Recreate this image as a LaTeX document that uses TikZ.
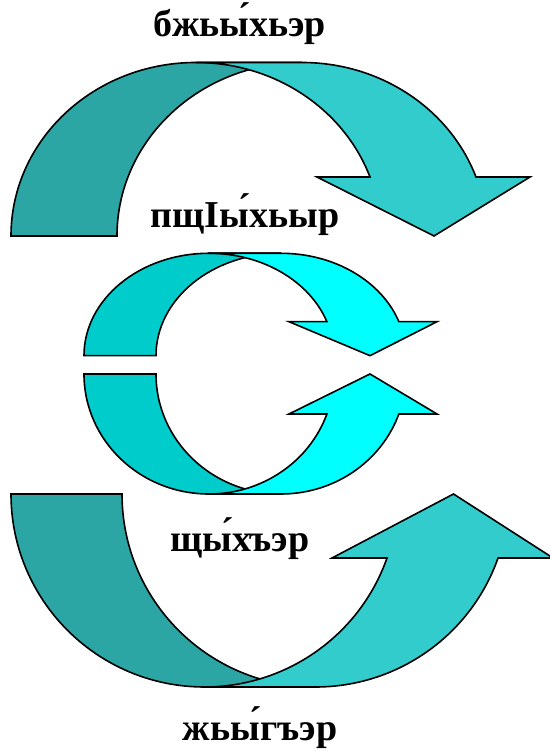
\documentclass[tikz,border=0pt]{standalone}
\usepackage{fontspec}
\setmainfont{Liberation Serif}
\usetikzlibrary{positioning}
\definecolor{tealdark}{HTML}{2CA5A5}
\definecolor{teallight}{HTML}{33CCCC}
\definecolor{cyandark}{HTML}{00CCCC}
\definecolor{cyanlight}{HTML}{00FFFF}

\begin{document}
\begin{tikzpicture}[x=1pt,y=1pt,
  band/.style={draw=black,line width=1.6pt,line join=miter},
  lbl/.style={font=\fontsize{38}{40}\selectfont\bfseries,anchor=base,inner sep=0pt}]
\useasboundingbox (0,0) rectangle (549,751);
% top arrow: tail behind
\draw[band,fill=tealdark] (11,515) arc[start angle=180,end angle=90,x radius=185,y radius=173.5]
  -- (302,688.5) arc[start angle=90,end angle=180,x radius=185,y radius=173.5] -- cycle;
% top arrow: front band and head (down)
\draw[band,fill=teallight] (196,688.5) -- (302,688.5)
  arc[start angle=90,end angle=19.88,x radius=185,y radius=173.5]
  -- (530,574) -- (434,515) -- (317,574) -- (370,574)
  arc[start angle=19.88,end angle=90,x radius=185,y radius=173.5] -- cycle;
% middle, upper half
\draw[band,fill=cyandark] (84,395.3) arc[start angle=180,end angle=90,x radius=125,y radius=102.4]
  -- (281,497.7) arc[start angle=90,end angle=180,x radius=125,y radius=102.4] -- cycle;
\draw[band,fill=cyanlight] (209,497.7) -- (281,497.7)
  arc[start angle=90,end angle=19.39,x radius=125,y radius=102.4]
  -- (437,429.3) -- (370,395.3) -- (289,429.3) -- (326.9,429.3)
  arc[start angle=19.39,end angle=90,x radius=125,y radius=102.4] -- cycle;
% middle, lower half
\draw[band,fill=cyandark] (84,377) arc[start angle=180,end angle=270,x radius=125,y radius=120]
  -- (281,257) arc[start angle=270,end angle=180,x radius=125,y radius=120] -- cycle;
\draw[band,fill=cyanlight] (209,257) -- (281,257)
  arc[start angle=270,end angle=340.53,x radius=125,y radius=120]
  -- (437,337) -- (370,377) -- (289,337) -- (326.9,337)
  arc[start angle=340.53,end angle=270,x radius=125,y radius=120] -- cycle;
% bottom arrow: tail behind
\draw[band,fill=tealdark] (11,257) arc[start angle=180,end angle=270,x radius=193.5,y radius=193]
  -- (315.5,64) arc[start angle=270,end angle=180,x radius=193.5,y radius=193] -- cycle;
% bottom arrow: front band and head (up)
\draw[band,fill=teallight] (204.5,64) -- (315.5,64)
  arc[start angle=270,end angle=340.63,x radius=193.5,y radius=193]
  -- (553,193) -- (453.5,257) -- (332,193) -- (387,193)
  arc[start angle=340.63,end angle=270,x radius=193.5,y radius=193] -- cycle;
% labels
\node[lbl] (bzhyh) at (240,714) {бжьы́хьэр};
\node[lbl] (pshyh) at (245,523) {пщIы́хьыр};
\node[lbl] (shyh) at (240,199) {щы́хъэр};
\node[lbl] (zhyg) at (260,10) {жьы́гъэр};
\end{tikzpicture}
\end{document}
